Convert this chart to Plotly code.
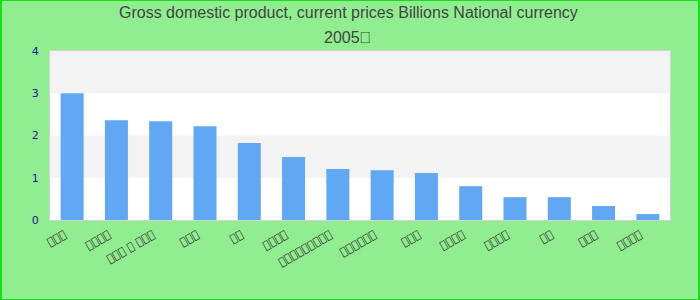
import plotly.graph_objects as go

# Category labels appear as missing-glyph boxes in the reference; reproduced with
# code points that have no glyph so they draw the same way.
categories = [
    "\ue000\ue001\ue002",
    "\ue003\ue004\ue005\ue006",
    "\ue007\ue008\ue009 \ue00a \ue00b\ue00c\ue00d",
    "\ue00e\ue00f\ue010",
    "\ue011\ue012",
    "\ue013\ue014\ue015\ue016",
    "\ue020\ue021\ue022\ue023\ue024\ue025\ue026\ue027\ue028",
    "\ue030\ue031\ue032\ue033\ue034\ue035",
    "\ue040\ue041\ue042",
    "\ue050\ue051\ue052\ue053",
    "\ue060\ue061\ue062\ue063",
    "\ue070\ue071",
    "\ue080\ue081\ue082",
    "\ue090\ue091\ue092\ue093",
]
values = [3.00, 2.36, 2.34, 2.22, 1.82, 1.49, 1.21, 1.18, 1.11, 0.80, 0.54, 0.54, 0.33, 0.14]
y_ticks = [0, 1, 2, 3, 4]
title_lines = ["Gross domestic product, current prices Billions National currency", "2005\ue0ff"]

positions = list(range(len(categories)))

fig = go.Figure(go.Bar(x=positions, y=values, marker=dict(color="#61a8f4", line=dict(width=0))))

W, H = 700, 300
L, R, T, B = 50, 30, 51, 80
pw, ph = W - L - R, H - T - B

shapes = []
for lo in (1, 3):
    shapes.append(dict(type="rect", xref="paper", yref="y", x0=0, x1=1, y0=lo, y1=lo + 1,
                       fillcolor="#f3f3f3", line=dict(width=0), layer="below"))
shapes.append(dict(type="rect", xref="paper", yref="paper",
                   x0=(1 - L) / pw, x1=(699 - L) / pw,
                   y0=-B / ph, y1=(H - B) / ph,
                   line=dict(color="#14e014", width=2), fillcolor="rgba(0,0,0,0)", layer="above"))

annotations = []
for i, (line, py) in enumerate(zip(title_lines, (13, 37))):
    annotations.append(dict(text=line, xref="paper", yref="paper",
                            x=(348 - L) / pw, y=(H - B - py) / ph,
                            xanchor="center", yanchor="middle", showarrow=False,
                            font=dict(family="Liberation Sans Narrow, Arial Narrow, sans-serif",
                                      size=16, color="#444444")))

fig.update_layout(
    width=W, height=H,
    margin=dict(l=L, r=R, t=T, b=B),
    paper_bgcolor="#90ee90",
    plot_bgcolor="#ffffff",
    bargap=0.48,
    showlegend=False,
    shapes=shapes,
    annotations=annotations,
    xaxis=dict(tickmode="array", tickvals=positions, ticktext=categories, tickangle=-30,
               range=[-0.5, len(categories) - 0.5],
               tickfont=dict(family="DejaVu Sans", size=11, color="#333333"),
               showline=True, mirror=True, linecolor="#d3d3d3", linewidth=1,
               showgrid=False, zeroline=False, ticks="",
               ticklabelshift=-8, ticklabelstandoff=3),
    yaxis=dict(range=[0, 4], tickmode="array", tickvals=y_ticks, ticktext=[str(v) for v in y_ticks],
               tickfont=dict(family="DejaVu Sans", size=11, color="#1a1a9a"),
               showline=True, mirror=True, linecolor="#d3d3d3", linewidth=1,
               showgrid=False, zeroline=False, ticks="", ticklabelstandoff=8),
)

fig.write_html("out.html")
